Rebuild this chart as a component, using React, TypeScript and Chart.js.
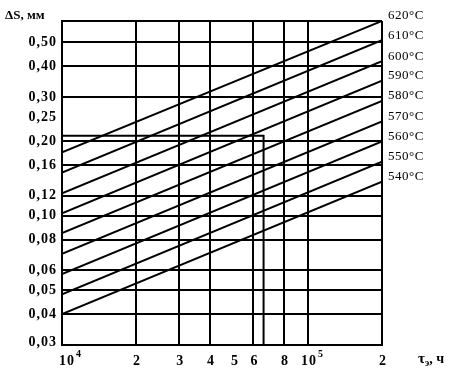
import React, { useEffect, useRef } from "react";
import { Chart, registerables } from "chart.js";

Chart.register(...registerables);

// Temperatures (labels at the right end of each line)
const temperatures = ["540°C", "550°C", "560°C", "570°C", "580°C", "590°C", "600°C", "610°C", "620°C"];
// ΔS (mm) at τ = 10^4 h and τ = 2·10^5 h for each temperature line
const valuesAtStart = [0.040, 0.048, 0.058, 0.070, 0.085, 0.102, 0.123, 0.149, 0.180];
const valuesAtEnd = [0.137, 0.165, 0.199, 0.240, 0.290, 0.350, 0.420, 0.510, 0.610];
const tauStart = 10000;
const tauEnd = 200000;

// Worked example: ΔS = 0.21 mm -> τ ≈ 6.6·10^4 h
const exampleDeltaS = 0.21;
const exampleTau = 66000;

// Axis ticks
const xTicks = [10000, 20000, 30000, 40000, 50000, 60000, 80000, 100000, 200000];
const xTickLabels = ["10|4", "2", "3", "4", "5", "6", "8", "10|5", "2"];
const xNoGrid = [50000];
const yTicks = [0.03, 0.04, 0.05, 0.06, 0.08, 0.10, 0.12, 0.16, 0.20, 0.25, 0.30, 0.40, 0.50, 0.61];
const yTickLabels = ["0,03", "0,04", "0,05", "0,06", "0,08", "0,10", "0,12", "0,16", "0,20", "0,25", "0,30", "0,40", "0,50", ""];
const yNoGrid = [0.25];

const yTitle = "ΔS, мм";
const xTitle = "τ";
const xTitleSub = "э";
const xTitleRest = ", ч";

const FONT = "'Liberation Serif', 'DejaVu Serif', serif";

const textPlugin = {
  id: "customText",
  afterDraw(chart: any) {
    const ctx = chart.ctx;
    const xs = chart.scales.x;
    const ys = chart.scales.y;
    const area = chart.chartArea;
    ctx.save();
    ctx.fillStyle = "#000";
    ctx.textBaseline = "middle";
    (ctx as any).letterSpacing = "1px";
    // y tick labels
    ctx.font = `bold 14px ${FONT}`;
    ctx.textAlign = "right";
    yTicks.forEach((v, i) => {
      const lbl = yTickLabels[i];
      if (!lbl) return;
      let y = ys.getPixelForValue(v);
      if (i === 0) y -= 3;
      ctx.fillText(lbl, area.left - 5, y);
    });
    // x tick labels
    xTicks.forEach((v, i) => {
      const lbl = xTickLabels[i];
      const x = xs.getPixelForValue(v);
      const y = area.bottom + 16;
      if (lbl.includes("|")) {
        const [base, sup] = lbl.split("|");
        ctx.font = `bold 14px ${FONT}`;
        ctx.textAlign = "center";
        const cx = i === 0 ? x + 5 : x + 1;
        ctx.fillText(base, cx, y);
        const w = ctx.measureText(base).width;
        ctx.font = `bold 10px ${FONT}`;
        ctx.textAlign = "left";
        ctx.fillText(sup, cx + w / 2 + 1, y - 7);
      } else {
        ctx.font = `bold 14px ${FONT}`;
        ctx.textAlign = "center";
        ctx.fillText(lbl, x + 1, y);
      }
    });
    // temperature labels
    ctx.font = `13px ${FONT}`;
    (ctx as any).letterSpacing = "0.5px";
    ctx.textAlign = "left";
    temperatures.forEach((t, i) => {
      const y = ys.getPixelForValue(valuesAtEnd[i]);
      ctx.fillText(t, area.right + 6, y - 5);
    });
    // axis titles
    (ctx as any).letterSpacing = "0px";
    ctx.font = `bold 13px ${FONT}`;
    ctx.textAlign = "left";
    ctx.fillText(yTitle, 5, 16);
    ctx.font = `bold 15px ${FONT}`;
    ctx.fillText(xTitle, 418, 359);
    const tw = ctx.measureText(xTitle).width;
    ctx.font = `bold 10px ${FONT}`;
    ctx.fillText(xTitleSub, 418 + tw, 363);
    const sw = ctx.measureText(xTitleSub).width;
    ctx.font = `bold 14px ${FONT}`;
    ctx.fillText(xTitleRest, 418 + tw + sw, 359);
    ctx.restore();
  },
};

export default function App() {
  const ref = useRef<HTMLCanvasElement | null>(null);
  useEffect(() => {
    if (!ref.current) return;
    const lineDatasets = temperatures.map((t, i) => ({
      label: t,
      data: [
        { x: tauStart, y: valuesAtStart[i] },
        { x: tauEnd, y: valuesAtEnd[i] },
      ],
      borderColor: "#000",
      borderWidth: 2,
      pointRadius: 0,
      fill: false,
    }));
    const example = {
      label: "example",
      data: [
        { x: tauStart, y: exampleDeltaS },
        { x: exampleTau, y: exampleDeltaS },
        { x: exampleTau, y: 0.03 },
      ],
      borderColor: "#000",
      borderWidth: 2,
      pointRadius: 0,
      fill: false,
    };
    const chart = new Chart(ref.current, {
      type: "line",
      data: { datasets: [...lineDatasets, example] },
      options: {
        responsive: false,
        animation: false,
        layout: { padding: { left: 62, right: 77, top: 21, bottom: 29 } },
        plugins: { legend: { display: false }, tooltip: { enabled: false } },
        scales: {
          x: {
            type: "logarithmic",
            min: 10000,
            max: 200000,
            afterBuildTicks: (s: any) => {
              s.ticks = xTicks.map((v) => ({ value: v }));
            },
            ticks: { display: false },
            grid: {
              drawTicks: false,
              color: (c: any) => (xNoGrid.includes(c.tick?.value) ? "rgba(0,0,0,0)" : "#000"),
              lineWidth: 2,
            },
            border: { display: true, color: "#000", width: 2 },
          },
          y: {
            type: "logarithmic",
            min: 0.03,
            max: 0.61,
            afterBuildTicks: (s: any) => {
              s.ticks = yTicks.map((v) => ({ value: v }));
            },
            ticks: { display: false },
            grid: {
              drawTicks: false,
              color: (c: any) => (yNoGrid.includes(c.tick?.value) ? "rgba(0,0,0,0)" : "#000"),
              lineWidth: 2,
            },
            border: { display: true, color: "#000", width: 2 },
          },
        },
      },
      plugins: [textPlugin],
    });
    return () => chart.destroy();
  }, []);
  return (
    <div style={{ position: "fixed", left: 0, top: 0, width: 459, height: 374, background: "#fff" }}>
      <canvas ref={ref} width={459} height={374} style={{ width: 459, height: 374 }} />
    </div>
  );
}
